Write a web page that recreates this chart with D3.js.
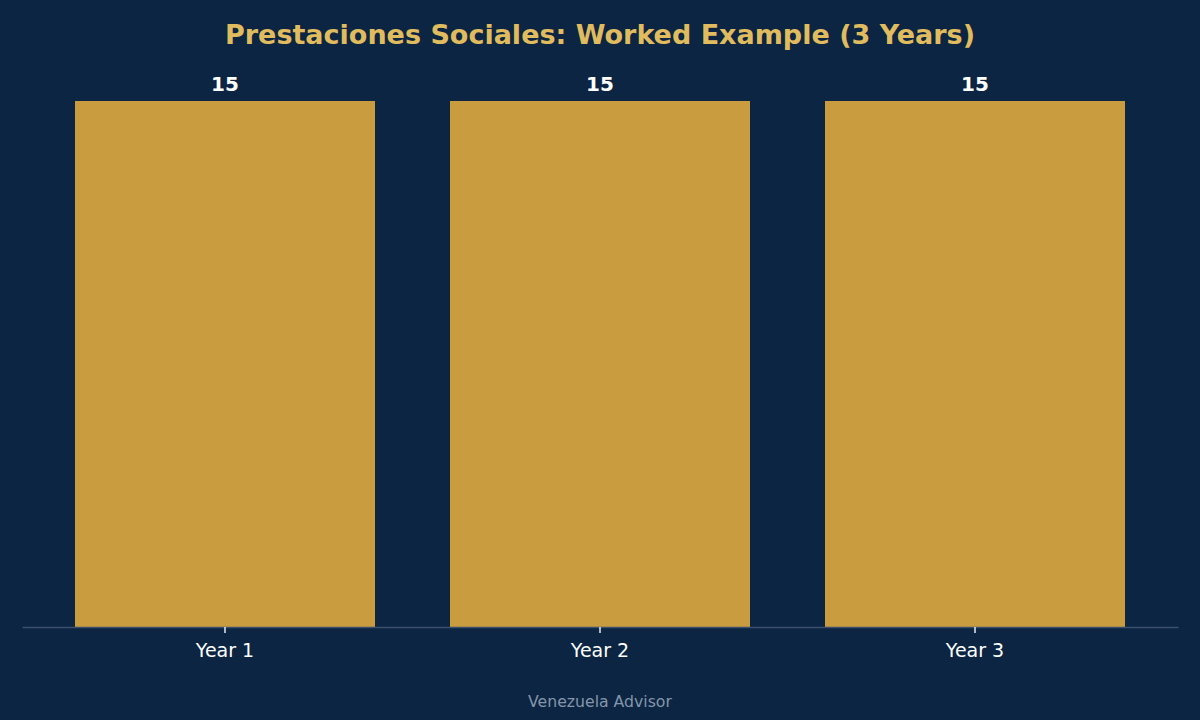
<!DOCTYPE html>
<meta charset="utf-8">
<script src="https://cdn.jsdelivr.net/npm/d3@7"></script>
<style>
  body { margin: 0; background: #0b2542; }
  svg { display: block; font-family: "DejaVu Sans", sans-serif; }
</style>
<body>
<div id="chart"></div>
<script>
  var categories = ["Year 1", "Year 2", "Year 3"]
  var values = [15, 15, 15]
  var titleText = "Prestaciones Sociales: Worked Example (3 Years)"
  var footerText = "Venezuela Advisor"

  var width = 1200
  var height = 720
  var margin = {top: 101, right: 22, bottom: 93, left: 22}

  var svg = d3.select("#chart")
              .append("svg")
              .attr("width", width)
              .attr("height", height)

  svg.append("rect")
     .attr("width", width)
     .attr("height", height)
     .attr("fill", "#0b2542")

  var xScale = d3.scaleBand()
                 .domain(categories)
                 .range([margin.left, width - margin.right])
                 .paddingInner(0.2)
                 .paddingOuter(0.1413)

  var yScale = d3.scaleLinear()
                 .domain([0, d3.max(values)])
                 .range([height - margin.bottom, margin.top])

  // bars
  svg.selectAll(".bar")
     .data(values)
     .enter()
     .append("rect")
     .attr("class", "bar")
     .attr("x", function(d, i) { return xScale(categories[i]) })
     .attr("y", function(d) { return yScale(d) })
     .attr("width", xScale.bandwidth())
     .attr("height", function(d) { return yScale(0) - yScale(d) })
     .attr("fill", "#c89c3f")

  // value labels
  svg.selectAll(".val")
     .data(values)
     .enter()
     .append("text")
     .attr("class", "val")
     .attr("x", function(d, i) { return xScale(categories[i]) + xScale.bandwidth() / 2 })
     .attr("y", function(d) { return yScale(d) - 10 })
     .attr("text-anchor", "middle")
     .style("font-size", "20px")
     .style("font-weight", "bold")
     .attr("fill", "#ffffff")
     .text(function(d) { return d })

  // x axis
  var xAxis = svg.append("g")
     .attr("transform", "translate(0," + yScale(0) + ")")
     .call(d3.axisBottom(xScale).tickSize(6).tickSizeOuter(0).tickPadding(11))
  xAxis.select(".domain").attr("stroke", "#3b4f6b").attr("stroke-width", 1.5)
  xAxis.selectAll(".tick line").attr("stroke", "#e8ecf0").attr("stroke-width", 1.5)
  xAxis.selectAll(".tick text")
       .attr("fill", "#ffffff")
       .style("font-size", "19px")
       .style("font-family", "DejaVu Sans, sans-serif")

  // title
  svg.append("text")
     .attr("x", width / 2)
     .attr("y", 44)
     .attr("text-anchor", "middle")
     .style("font-size", "27px")
     .style("font-weight", "bold")
     .attr("fill", "#e0bc5e")
     .text(titleText)

  // footer
  svg.append("text")
     .attr("x", width / 2)
     .attr("y", 707)
     .attr("text-anchor", "middle")
     .style("font-size", "15.7px")
     .attr("fill", "#8595ab")
     .text(footerText)
</script>
</body>
